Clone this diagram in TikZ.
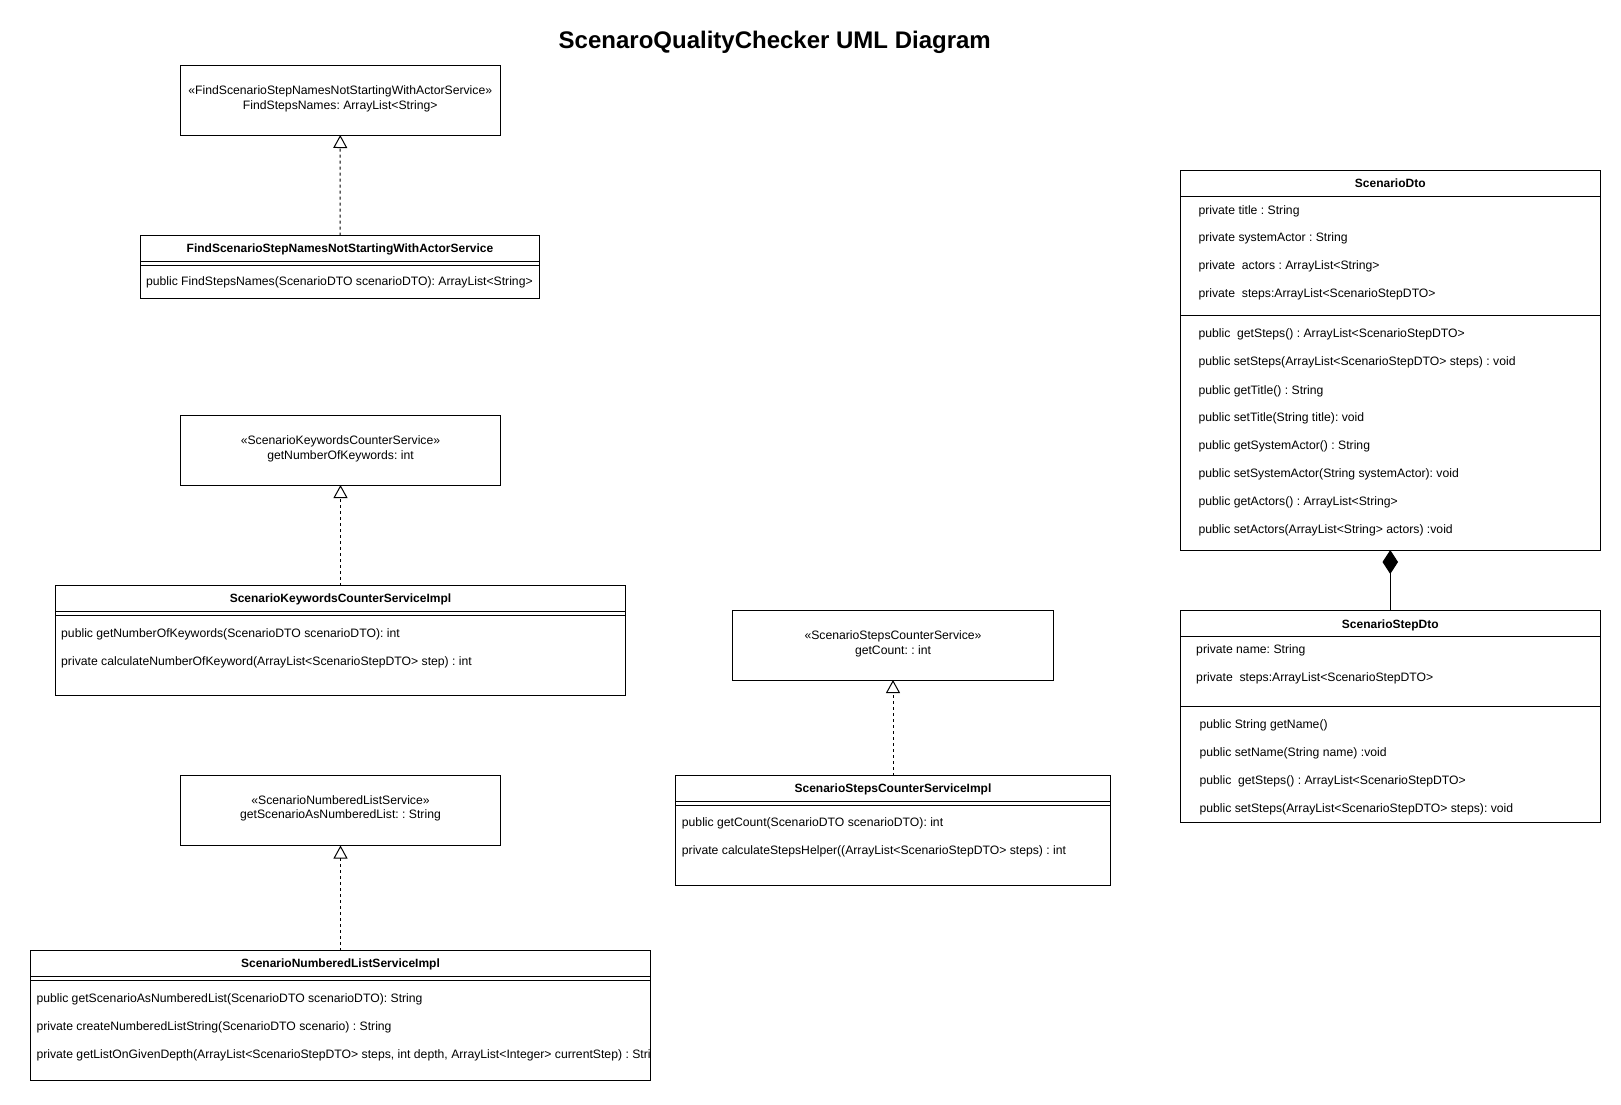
\documentclass[tikz,border=0pt]{standalone}
\usepackage{fontspec}
\setmainfont{Liberation Sans}
\usetikzlibrary{arrows.meta}
\frenchspacing
\begin{document}
\frenchspacing
\begin{tikzpicture}[x=1pt,y=-1pt,
  box/.style={draw, line width=1pt, inner sep=0pt, outer sep=0pt, anchor=north west, rectangle},
  txt/.style={anchor=base west, inner sep=0pt, font=\fontsize{12.2}{14.4}\selectfont},
  ctxt/.style={anchor=base, inner sep=0pt, font=\fontsize{12.2}{14.4}\selectfont},
  btxt/.style={anchor=base, inner sep=0pt, font=\fontsize{12}{14.4}\selectfont\bfseries},
  realize/.style={line width=1pt, dash pattern=on 3pt off 3pt, -{Triangle[open, length=13pt, width=14pt]}},
  compose/.style={line width=1pt, -{Diamond[length=24pt, width=15.5pt]}},
  sep/.style={line width=1pt}]
\useasboundingbox (0,0) rectangle (1621,1104);
% title
\node[anchor=base, inner sep=0pt, font=\fontsize{24}{28}\selectfont\bfseries] (title) at (774.8,48) {ScenaroQualityChecker UML Diagram};

% interface 1
\node[box, minimum width=320.5pt, minimum height=70pt] (i1) at (180,65) {};
\node[ctxt] (i1a) at (340.25,94) {«FindScenarioStepNamesNotStartingWithActorService»};
\node[ctxt] (i1b) at (340.25,109) {FindStepsNames: ArrayList<String>};
% class 1
\node[box, minimum width=399pt, minimum height=63pt] (c1) at (140.5,235.5) {};
\draw[sep] (140.5,261) -- (539.5,261);
\draw[sep] (140.5,265) -- (539.5,265);
\node[btxt] (c1t) at (340,252.5) {FindScenarioStepNamesNotStartingWithActorService};
\node[txt] (c1m1) at (145.8,285.7) {public FindStepsNames(ScenarioDTO scenarioDTO): ArrayList<String>};
\draw[realize] (c1.north) -- (i1.south);

% interface 2
\node[box, minimum width=320pt, minimum height=70pt] (i2) at (180.5,415) {};
\node[ctxt] (i2a) at (340.5,444) {«ScenarioKeywordsCounterService»};
\node[ctxt] (i2b) at (340.5,459) {getNumberOfKeywords: int};
% class 2
\node[box, minimum width=570pt, minimum height=109.5pt] (c2) at (55.5,585.5) {};
\draw[sep] (55.5,611) -- (625.5,611);
\draw[sep] (55.5,615) -- (625.5,615);
\node[btxt] (c2t) at (340.5,602.5) {ScenarioKeywordsCounterServiceImpl};
\node[txt] (c2m1) at (61,637.3) {public getNumberOfKeywords(ScenarioDTO scenarioDTO): int};
\node[txt] (c2m2) at (61,665) {private calculateNumberOfKeyword(ArrayList<ScenarioStepDTO> step) : int};
\draw[realize] (c2.north) -- (i2.south);

% interface 3
\node[box, minimum width=320pt, minimum height=70.5pt] (i3) at (180.5,775) {};
\node[ctxt] (i3a) at (340.5,804) {«ScenarioNumberedListService»};
\node[ctxt] (i3b) at (340.5,818.5) {getScenarioAsNumberedList: : String};
% class 3
\node[box, minimum width=620pt, minimum height=129.5pt] (c3) at (30.5,950.5) {};
\draw[sep] (30.5,976) -- (650.5,976);
\draw[sep] (30.5,980) -- (650.5,980);
\node[btxt] (c3t) at (340.5,967.5) {ScenarioNumberedListServiceImpl};
\node[txt] (c3m1) at (36.3,1002.3) {public getScenarioAsNumberedList(ScenarioDTO scenarioDTO): String};
\node[txt] (c3m2) at (36.3,1030) {private createNumberedListString(ScenarioDTO scenario) : String};
\node[txt] (c3m3) at (36.3,1058) {private getListOnGivenDepth(ArrayList<ScenarioStepDTO> steps, int depth, ArrayList<Integer> currentStep) : Stri};
\draw[realize] (c3.north) -- (i3.south);

% interface 4
\node[box, minimum width=321pt, minimum height=70pt] (i4) at (732.5,610) {};
\node[ctxt] (i4a) at (893,639) {«ScenarioStepsCounterService»};
\node[ctxt] (i4b) at (893,654) {getCount: : int};
% class 4
\node[box, minimum width=435pt, minimum height=110pt] (c4) at (675.5,775.5) {};
\draw[sep] (675.5,801) -- (1110.5,801);
\draw[sep] (675.5,805) -- (1110.5,805);
\node[btxt] (c4t) at (893,792.5) {ScenarioStepsCounterServiceImpl};
\node[txt] (c4m1) at (681.7,826.7) {public getCount(ScenarioDTO scenarioDTO): int};
\node[txt] (c4m2) at (681.7,854.7) {private calculateStepsHelper((ArrayList<ScenarioStepDTO> steps) : int};
\draw[realize] (c4.north) -- (i4.south);

% ScenarioDto
\node[box, minimum width=419.5pt, minimum height=379.5pt] (dto) at (1180.5,170.5) {};
\draw[sep] (1180.5,196.7) -- (1600,196.7);
\draw[sep] (1180.5,315.3) -- (1600,315.3);
\node[btxt] (dtot) at (1390.25,187.5) {ScenarioDto};
\node[txt] (dtoa1) at (1198.3,214) {private title : String};
\node[txt] (dtoa2) at (1198.3,241.7) {private systemActor : String};
\node[txt] (dtoa3) at (1198.3,269.7) {private\ \ actors : ArrayList<String>};
\node[txt] (dtoa4) at (1198.3,297.3) {private\ \ steps:ArrayList<ScenarioStepDTO>};
\node[txt] (dtom1) at (1198.3,337.3) {public\ \ getSteps() : ArrayList<ScenarioStepDTO>};
\node[txt] (dtom2) at (1198.3,365.7) {public setSteps(ArrayList<ScenarioStepDTO> steps) : void};
\node[txt] (dtom3) at (1198.3,394) {public getTitle() : String};
\node[txt] (dtom4) at (1198.3,421.7) {public setTitle(String title): void};
\node[txt] (dtom5) at (1198.3,449.7) {public getSystemActor() : String};
\node[txt] (dtom6) at (1198.3,477.7) {public setSystemActor(String systemActor): void};
\node[txt] (dtom7) at (1198.3,505.7) {public getActors() : ArrayList<String>};
\node[txt] (dtom8) at (1198.3,533.7) {public setActors(ArrayList<String> actors) :void};

% ScenarioStepDto
\node[box, minimum width=419.5pt, minimum height=212pt] (step) at (1180.5,610.5) {};
\draw[sep] (1180.5,636.7) -- (1600,636.7);
\draw[sep] (1180.5,706) -- (1600,706);
\node[btxt] (stept) at (1390.25,628) {ScenarioStepDto};
\node[txt] (stepa1) at (1196,653.3) {private name: String};
\node[txt] (stepa2) at (1196,681.3) {private\ \ steps:ArrayList<ScenarioStepDTO>};
\node[txt] (stepm1) at (1199.3,728.3) {public String getName()};
\node[txt] (stepm2) at (1199.3,756.3) {public setName(String name) :void};
\node[txt] (stepm3) at (1199.3,784.7) {public\ \ getSteps() : ArrayList<ScenarioStepDTO>};
\node[txt] (stepm4) at (1199.3,812.3) {public setSteps(ArrayList<ScenarioStepDTO> steps): void};
\draw[compose] (step.north) -- (dto.south);
\end{tikzpicture}
\end{document}
